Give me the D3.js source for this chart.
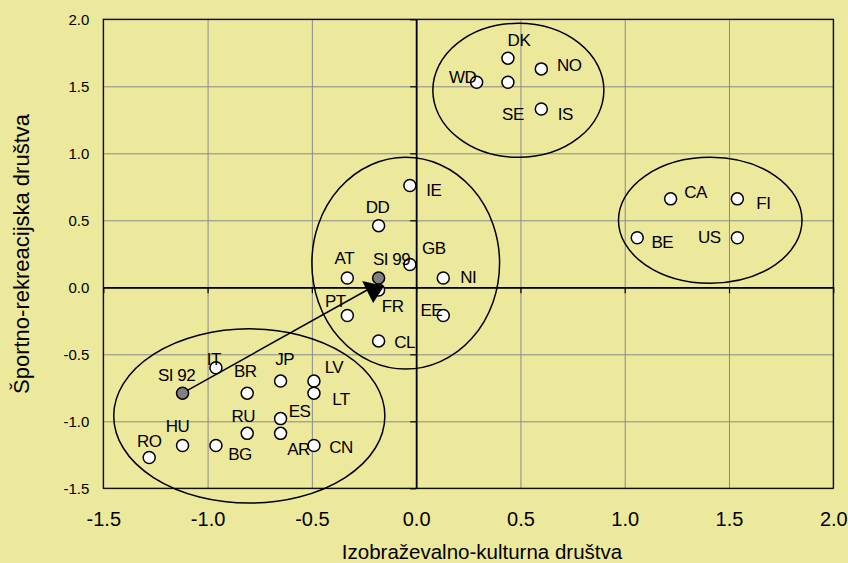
<!DOCTYPE html>
<html>

<head>
  <meta charset="utf-8">
  <title>Izobraževalno-kulturna in športno-rekreacijska društva</title>
  <style>
    body { margin: 0; background: #ece89c; }
    svg { display: block; font-family: "Liberation Sans", Arial, sans-serif; }
  </style>
</head>

<body>

  <svg id="main" width="848" height="563"></svg>

  <script src="https://cdn.jsdelivr.net/npm/d3@7"></script>
  <script>

    // data
    const countries = ['DK', 'NO', 'WD', 'SE', 'IS', 'IE', 'CA', 'FI', 'BE', 'US', 'GB', 'NI', 'DD', 'AT', 'SI 99',
      'FR', 'PT', 'CL', 'EE', 'IT', 'SI 92', 'BR', 'JP', 'LV', 'LT', 'ES', 'RU', 'AR', 'CN', 'HU', 'BG', 'RO']
    const xValues = [0.44, 0.60, 0.29, 0.44, 0.60, -0.03, 1.22, 1.54, 1.06, 1.54, -0.03, 0.13, -0.18, -0.33, -0.18,
      -0.18, -0.33, -0.18, 0.13, -0.96, -1.12, -0.81, -0.65, -0.49, -0.49, -0.65, -0.81, -0.65, -0.49, -1.12, -0.96, -1.28]
    const yValues = [1.71, 1.63, 1.53, 1.53, 1.33, 0.76, 0.66, 0.66, 0.37, 0.37, 0.17, 0.07, 0.46, 0.07, 0.07,
      -0.02, -0.21, -0.40, -0.21, -0.60, -0.79, -0.79, -0.70, -0.70, -0.79, -0.98, -1.09, -1.09, -1.18, -1.18, -1.18, -1.27]
    const highlighted = ['SI 92', 'SI 99']

    // cluster ellipses: centre x, centre y, radius x, radius y (data units)
    const clusters = [
      [0.49, 1.47, 0.41, 0.50],
      [1.41, 0.50, 0.44, 0.47],
      [-0.05, 0.18, 0.45, 0.79],
      [-0.80, -0.96, 0.65, 0.65]
    ]

    // arrow from SI 92 towards SI 99
    const arrowFrom = 'SI 92'
    const arrowTo = [-0.235, -0.02]

    const xTicks = [-1.5, -1.0, -0.5, 0.0, 0.5, 1.0, 1.5, 2.0]
    const yTicks = [-1.5, -1.0, -0.5, 0.0, 0.5, 1.0, 1.5, 2.0]

    const xTitle = 'Izobraževalno-kulturna društva'
    const yTitle = 'Športno-rekreacijska društva'

    // label placement relative to the marker (px)
    const labelOffset = {
      'DK': [11, -18], 'NO': [28, -4], 'WD': [-14, -5], 'SE': [5, 32], 'IS': [24, 5],
      'IE': [24, 4], 'CA': [25, -7], 'FI': [26, 4], 'BE': [25, 4], 'US': [-28, -1],
      'GB': [24, -17], 'NI': [25, -1], 'DD': [-1, -19], 'AT': [-3, -20], 'SI 99': [13, -19],
      'FR': [14, 16], 'PT': [-12, -15], 'CL': [26, 1], 'EE': [-12, -6], 'IT': [-2, -9],
      'SI 92': [-6, -18], 'BR': [-2, -22], 'JP': [4, -22], 'LV': [20, -14], 'LT': [27, 6],
      'ES': [19, -8], 'RU': [-4, -17], 'AR': [18, 16], 'CN': [27, 1], 'HU': [-5, -20],
      'BG': [24, 8], 'RO': [0, -17]
    }

    const svg = d3.select('#main')
    const margin = { top: 19.3, right: 14.7, bottom: 74.7, left: 103.3 }
    const width = +svg.attr('width')
    const height = +svg.attr('height')
    const innerWidth = width - margin.left - margin.right
    const innerHeight = height - margin.top - margin.bottom

    const points = countries.map((name, i) => ({ name, x: xValues[i], y: yValues[i] }))
    const fmt = d => d.toFixed(1)

    const xScale = d3.scaleLinear().domain([-1.5, 2.0]).range([0, innerWidth])
    const yScale = d3.scaleLinear().domain([-1.5, 2.0]).range([innerHeight, 0])

    const chart = svg.append('g')
      .attr('transform', `translate(${margin.left},${margin.top})`)

    // grid
    chart.append('g')
      .call(d3.axisBottom(xScale).tickValues(xTicks).tickSize(innerHeight).tickFormat(''))
      .call(g => g.select('.domain').remove())
      .selectAll('line').attr('stroke', '#8a8a8a')
    chart.append('g')
      .call(d3.axisRight(yScale).tickValues(yTicks).tickSize(innerWidth).tickFormat(''))
      .call(g => g.select('.domain').remove())
      .selectAll('line').attr('stroke', '#8a8a8a')

    chart.append('rect')
      .attr('width', innerWidth)
      .attr('height', innerHeight)
      .attr('fill', 'none')
      .attr('stroke', '#000')
      .attr('stroke-width', 1.2)

    // axes crossing at zero, labels at the edges
    const xAxis = chart.append('g')
      .attr('transform', `translate(0,${yScale(0)})`)
      .call(d3.axisBottom(xScale).tickValues(xTicks).tickSize(6).tickSizeOuter(0).tickFormat(''))
    xAxis.select('.domain').attr('stroke-width', 1.8)
    xAxis.selectAll('.tick line').attr('stroke-width', 1.2)

    const yAxis = chart.append('g')
      .attr('transform', `translate(${xScale(0)},0)`)
      .call(d3.axisLeft(yScale).tickValues(yTicks).tickSize(6).tickSizeOuter(0).tickFormat(''))
    yAxis.select('.domain').attr('stroke-width', 1.8)
    yAxis.selectAll('.tick line').attr('stroke-width', 1.2)

    chart.append('g')
      .attr('transform', `translate(0,${innerHeight})`)
      .call(d3.axisBottom(xScale).tickValues(xTicks).tickSize(0).tickPadding(24).tickFormat(fmt))
      .call(g => g.select('.domain').remove())
      .selectAll('text')
      .attr('font-size', '20px')
      .attr('font-family', '"Liberation Sans", Arial, sans-serif')
      .attr('fill', '#000')

    chart.append('g')
      .call(d3.axisLeft(yScale).tickValues(yTicks).tickSize(0).tickPadding(14).tickFormat(fmt))
      .call(g => g.select('.domain').remove())
      .selectAll('text')
      .attr('font-size', '15px')
      .attr('font-family', '"Liberation Sans", Arial, sans-serif')
      .attr('fill', '#000')

    // cluster ellipses
    chart.append('g').selectAll('ellipse')
      .data(clusters)
      .join('ellipse')
      .attr('cx', d => xScale(d[0]))
      .attr('cy', d => yScale(d[1]))
      .attr('rx', d => xScale(d[0] + d[2]) - xScale(d[0]))
      .attr('ry', d => yScale(d[1]) - yScale(d[1] + d[3]))
      .attr('fill', 'none')
      .attr('stroke', '#000')
      .attr('stroke-width', 1.5)

    // markers
    chart.append('g').selectAll('circle')
      .data(points.filter(d => !highlighted.includes(d.name)))
      .join('circle')
      .attr('cx', d => xScale(d.x))
      .attr('cy', d => yScale(d.y))
      .attr('r', 6)
      .attr('fill', '#fff')
      .attr('stroke', '#000')
      .attr('stroke-width', 1.5)

    // arrow
    const start = points.find(d => d.name === arrowFrom)
    const ex = xScale(arrowTo[0])
    const ey = yScale(arrowTo[1])
    chart.append('line')
      .attr('x1', xScale(start.x))
      .attr('y1', yScale(start.y))
      .attr('x2', ex)
      .attr('y2', ey)
      .attr('stroke', '#000')
      .attr('stroke-width', 1.5)
    chart.append('path')
      .attr('d', `M${ex - 5},${ey - 9}L${ex + 17},${ey - 4}L${ex + 6},${ey + 13}Z`)
      .attr('fill', '#000')

    chart.append('g').selectAll('circle')
      .data(points.filter(d => highlighted.includes(d.name)))
      .join('circle')
      .attr('cx', d => xScale(d.x))
      .attr('cy', d => yScale(d.y))
      .attr('r', 6)
      .attr('fill', '#808080')
      .attr('stroke', '#000')
      .attr('stroke-width', 1.5)

    // labels
    chart.append('g').selectAll('text')
      .data(points)
      .join('text')
      .attr('x', d => xScale(d.x) + labelOffset[d.name][0])
      .attr('y', d => yScale(d.y) + labelOffset[d.name][1])
      .attr('dy', '0.36em')
      .attr('text-anchor', 'middle')
      .attr('font-size', '17px')
      .attr('letter-spacing', '-0.5px')
      .text(d => d.name)

    // axis titles
    svg.append('text')
      .text(xTitle)
      .attr('x', 482)
      .attr('y', 552)
      .attr('dy', '0.35em')
      .attr('text-anchor', 'middle')
      .attr('font-size', '20.5px')

    svg.append('text')
      .text(yTitle)
      .attr('transform', `translate(21,254) rotate(-90)`)
      .attr('dy', '0.35em')
      .attr('text-anchor', 'middle')
      .attr('font-size', '22px')

  </script>
</body>

</html>
